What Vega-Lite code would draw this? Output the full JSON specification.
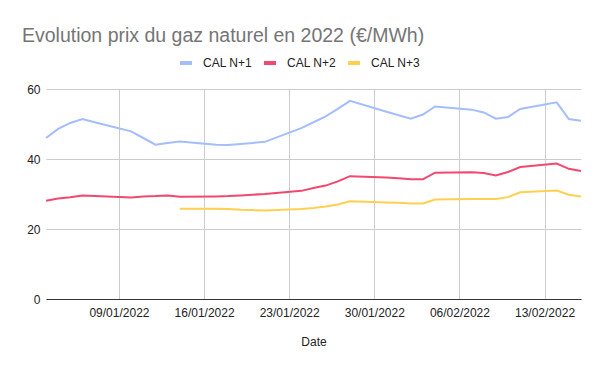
{
  "$schema": "https://vega.github.io/schema/vega-lite/v6.json",
  "width": 535,
  "height": 210,
  "autosize": {"type": "none"},
  "padding": {"left": 46, "top": 89, "right": 19, "bottom": 72},
  "background": "white",
  "title": {
    "text": "Evolution prix du gaz naturel en 2022 (€/MWh)",
    "anchor": "start",
    "font": "Liberation Sans",
    "fontSize": 19.5,
    "fontWeight": "normal",
    "color": "#757575",
    "dx": -24,
    "offset": -6,
    "baseline": "alphabetic",
    "frame": "group"
  },
  "config": {
    "view": {"stroke": null},
    "font": "Liberation Sans",
    "axis": {"labelFont": "Liberation Sans", "titleFont": "Liberation Sans", "labelColor": "#222222", "titleColor": "#222222", "labelFontSize": 12, "titleFontSize": 12, "titleFontWeight": "normal", "gridColor": "#cccccc", "gridWidth": 1, "ticks": false}
  },
  "data": {
    "values": [
      {"date": "2022/01/03", "serie": "CAL N+1", "prix": 46.0},
      {"date": "2022/01/04", "serie": "CAL N+1", "prix": 48.6},
      {"date": "2022/01/05", "serie": "CAL N+1", "prix": 50.3},
      {"date": "2022/01/06", "serie": "CAL N+1", "prix": 51.4},
      {"date": "2022/01/07", "serie": "CAL N+1", "prix": 50.5},
      {"date": "2022/01/10", "serie": "CAL N+1", "prix": 47.9},
      {"date": "2022/01/11", "serie": "CAL N+1", "prix": 46.0},
      {"date": "2022/01/12", "serie": "CAL N+1", "prix": 44.1},
      {"date": "2022/01/13", "serie": "CAL N+1", "prix": 44.6},
      {"date": "2022/01/14", "serie": "CAL N+1", "prix": 45.0},
      {"date": "2022/01/17", "serie": "CAL N+1", "prix": 44.1},
      {"date": "2022/01/18", "serie": "CAL N+1", "prix": 44.0},
      {"date": "2022/01/19", "serie": "CAL N+1", "prix": 44.3},
      {"date": "2022/01/20", "serie": "CAL N+1", "prix": 44.6},
      {"date": "2022/01/21", "serie": "CAL N+1", "prix": 44.9},
      {"date": "2022/01/24", "serie": "CAL N+1", "prix": 48.8},
      {"date": "2022/01/25", "serie": "CAL N+1", "prix": 50.5},
      {"date": "2022/01/26", "serie": "CAL N+1", "prix": 52.2},
      {"date": "2022/01/27", "serie": "CAL N+1", "prix": 54.3},
      {"date": "2022/01/28", "serie": "CAL N+1", "prix": 56.6},
      {"date": "2022/01/31", "serie": "CAL N+1", "prix": 53.5},
      {"date": "2022/02/01", "serie": "CAL N+1", "prix": 52.5},
      {"date": "2022/02/02", "serie": "CAL N+1", "prix": 51.5},
      {"date": "2022/02/03", "serie": "CAL N+1", "prix": 52.7},
      {"date": "2022/02/04", "serie": "CAL N+1", "prix": 55.0},
      {"date": "2022/02/07", "serie": "CAL N+1", "prix": 54.1},
      {"date": "2022/02/08", "serie": "CAL N+1", "prix": 53.3},
      {"date": "2022/02/09", "serie": "CAL N+1", "prix": 51.5},
      {"date": "2022/02/10", "serie": "CAL N+1", "prix": 52.0},
      {"date": "2022/02/11", "serie": "CAL N+1", "prix": 54.3},
      {"date": "2022/02/14", "serie": "CAL N+1", "prix": 56.2},
      {"date": "2022/02/15", "serie": "CAL N+1", "prix": 51.4},
      {"date": "2022/02/16", "serie": "CAL N+1", "prix": 50.9},
      {"date": "2022/01/03", "serie": "CAL N+2", "prix": 28.1},
      {"date": "2022/01/04", "serie": "CAL N+2", "prix": 28.7},
      {"date": "2022/01/05", "serie": "CAL N+2", "prix": 29.1},
      {"date": "2022/01/06", "serie": "CAL N+2", "prix": 29.6},
      {"date": "2022/01/07", "serie": "CAL N+2", "prix": 29.4},
      {"date": "2022/01/10", "serie": "CAL N+2", "prix": 29.0},
      {"date": "2022/01/11", "serie": "CAL N+2", "prix": 29.3},
      {"date": "2022/01/12", "serie": "CAL N+2", "prix": 29.4},
      {"date": "2022/01/13", "serie": "CAL N+2", "prix": 29.6},
      {"date": "2022/01/14", "serie": "CAL N+2", "prix": 29.2},
      {"date": "2022/01/17", "serie": "CAL N+2", "prix": 29.3},
      {"date": "2022/01/18", "serie": "CAL N+2", "prix": 29.4},
      {"date": "2022/01/19", "serie": "CAL N+2", "prix": 29.6},
      {"date": "2022/01/20", "serie": "CAL N+2", "prix": 29.8},
      {"date": "2022/01/21", "serie": "CAL N+2", "prix": 30.0},
      {"date": "2022/01/24", "serie": "CAL N+2", "prix": 30.9},
      {"date": "2022/01/25", "serie": "CAL N+2", "prix": 31.7},
      {"date": "2022/01/26", "serie": "CAL N+2", "prix": 32.4},
      {"date": "2022/01/27", "serie": "CAL N+2", "prix": 33.6},
      {"date": "2022/01/28", "serie": "CAL N+2", "prix": 35.1},
      {"date": "2022/01/31", "serie": "CAL N+2", "prix": 34.7},
      {"date": "2022/02/01", "serie": "CAL N+2", "prix": 34.5},
      {"date": "2022/02/02", "serie": "CAL N+2", "prix": 34.2},
      {"date": "2022/02/03", "serie": "CAL N+2", "prix": 34.2},
      {"date": "2022/02/04", "serie": "CAL N+2", "prix": 36.1},
      {"date": "2022/02/07", "serie": "CAL N+2", "prix": 36.2},
      {"date": "2022/02/08", "serie": "CAL N+2", "prix": 36.0},
      {"date": "2022/02/09", "serie": "CAL N+2", "prix": 35.3},
      {"date": "2022/02/10", "serie": "CAL N+2", "prix": 36.3},
      {"date": "2022/02/11", "serie": "CAL N+2", "prix": 37.7},
      {"date": "2022/02/14", "serie": "CAL N+2", "prix": 38.7},
      {"date": "2022/02/15", "serie": "CAL N+2", "prix": 37.2},
      {"date": "2022/02/16", "serie": "CAL N+2", "prix": 36.6},
      {"date": "2022/01/14", "serie": "CAL N+3", "prix": 25.8},
      {"date": "2022/01/17", "serie": "CAL N+3", "prix": 25.8},
      {"date": "2022/01/18", "serie": "CAL N+3", "prix": 25.7},
      {"date": "2022/01/19", "serie": "CAL N+3", "prix": 25.5},
      {"date": "2022/01/20", "serie": "CAL N+3", "prix": 25.4},
      {"date": "2022/01/21", "serie": "CAL N+3", "prix": 25.3},
      {"date": "2022/01/24", "serie": "CAL N+3", "prix": 25.7},
      {"date": "2022/01/25", "serie": "CAL N+3", "prix": 26.0},
      {"date": "2022/01/26", "serie": "CAL N+3", "prix": 26.4},
      {"date": "2022/01/27", "serie": "CAL N+3", "prix": 27.0},
      {"date": "2022/01/28", "serie": "CAL N+3", "prix": 27.9},
      {"date": "2022/01/31", "serie": "CAL N+3", "prix": 27.6},
      {"date": "2022/02/01", "serie": "CAL N+3", "prix": 27.5},
      {"date": "2022/02/02", "serie": "CAL N+3", "prix": 27.3},
      {"date": "2022/02/03", "serie": "CAL N+3", "prix": 27.3},
      {"date": "2022/02/04", "serie": "CAL N+3", "prix": 28.4},
      {"date": "2022/02/07", "serie": "CAL N+3", "prix": 28.6},
      {"date": "2022/02/08", "serie": "CAL N+3", "prix": 28.6},
      {"date": "2022/02/09", "serie": "CAL N+3", "prix": 28.6},
      {"date": "2022/02/10", "serie": "CAL N+3", "prix": 29.1},
      {"date": "2022/02/11", "serie": "CAL N+3", "prix": 30.5},
      {"date": "2022/02/14", "serie": "CAL N+3", "prix": 31.0},
      {"date": "2022/02/15", "serie": "CAL N+3", "prix": 29.8},
      {"date": "2022/02/16", "serie": "CAL N+3", "prix": 29.3}
    ]
  },
  "mark": {"type": "line", "strokeWidth": 2, "interpolate": "linear"},
  "encoding": {
    "x": {
      "field": "date",
      "type": "temporal",
      "title": "Date",
      "scale": {"domain": [{"year": 2022, "month": 1, "date": 3}, {"year": 2022, "month": 2, "date": 16}], "nice": false},
      "axis": {
        "values": [
          {"year": 2022, "month": 1, "date": 9},
          {"year": 2022, "month": 1, "date": 16},
          {"year": 2022, "month": 1, "date": 23},
          {"year": 2022, "month": 1, "date": 30},
          {"year": 2022, "month": 2, "date": 6},
          {"year": 2022, "month": 2, "date": 13}
        ],
        "format": "%d/%m/%Y",
        "domain": true,
        "domainColor": "#333333",
        "domainWidth": 1,
        "labelPadding": 8,
        "titlePadding": 18,
        "labelFlush": false,
        "labelOverlap": false
      }
    },
    "y": {
      "field": "prix",
      "type": "quantitative",
      "title": null,
      "scale": {"domain": [0, 60], "nice": false},
      "axis": {"values": [0, 20, 40, 60], "domain": false, "labelPadding": 6}
    },
    "color": {
      "field": "serie",
      "type": "nominal",
      "title": null,
      "scale": {"domain": ["CAL N+1", "CAL N+2", "CAL N+3"], "range": ["#a4bdfc", "#f2486f", "#ffd04f"]},
      "legend": {
        "orient": "none",
        "direction": "horizontal",
        "legendX": 132,
        "legendY": -34,
        "padding": 0,
        "symbolType": "stroke",
        "symbolSize": 144,
        "symbolStrokeWidth": 4,
        "labelFont": "Liberation Sans",
        "labelFontSize": 12,
        "labelColor": "#222222",
        "labelOffset": 9,
        "columnPadding": 3
      }
    }
  }
}
